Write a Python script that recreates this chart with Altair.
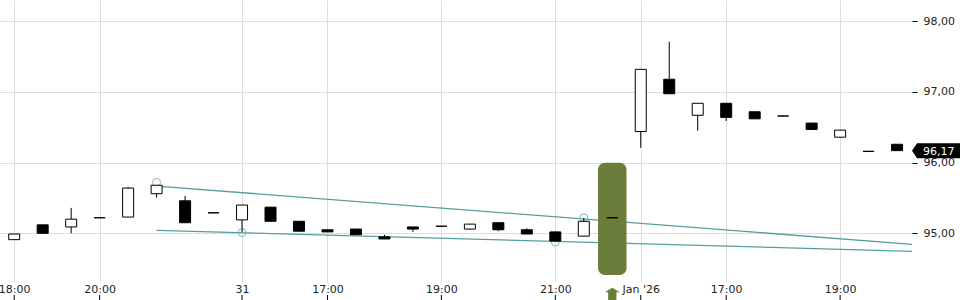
import altair as alt
import pandas as pd

# ---- data ----
idx = list(range(32))
open_ = [94.91, 95.12, 95.09, 95.22, 95.23, 95.56, 95.46, 95.29, 95.19, 95.37, 95.17, 95.05,
         95.06, 94.95, 95.09, 95.10, 95.06, 95.15, 95.05, 95.02, 94.96, 95.22, 96.44, 97.18,
         96.67, 96.84, 96.72, 96.66, 96.56, 96.36, 96.16, 96.26]
close = [94.99, 95.00, 95.20, 95.22, 95.64, 95.68, 95.15, 95.29, 95.40, 95.17, 95.03, 95.02,
         94.98, 94.92, 95.06, 95.10, 95.13, 95.05, 94.99, 94.89, 95.17, 95.22, 97.32, 96.975,
         96.84, 96.64, 96.62, 96.66, 96.47, 96.46, 96.16, 96.17]
high = [94.99, 95.12, 95.36, 95.22, 95.655, 95.68, 95.53, 95.29, 95.40, 95.37, 95.17, 95.05,
        95.06, 94.98, 95.09, 95.10, 95.13, 95.15, 95.07, 95.02, 95.216, 95.22, 97.32, 97.71,
        96.84, 96.84, 96.72, 96.66, 96.56, 96.46, 96.16, 96.26]
low = [94.91, 95.00, 95.00, 95.22, 95.23, 95.507, 95.15, 95.29, 95.02, 95.17, 95.02, 95.02,
       94.98, 94.92, 95.02, 95.10, 95.05, 95.03, 94.99, 94.89, 94.96, 95.22, 96.21, 96.97,
       96.45, 96.59, 96.62, 96.66, 96.47, 96.36, 96.16, 96.17]

tick_idx = [0, 3, 8, 11, 15, 19, 22, 25, 29]
tick_lab = ["18:00", "20:00", "31", "17:00", "19:00", "21:00", "Jan '26", "17:00", "19:00"]

y_ticks = [95, 96, 97, 98]

# trend lines (start candle -> right edge)
trend_x = [5, 31.524]
trend_upper = [95.668, 94.844]
trend_lower = [95.042, 94.745]

# touch points (circles)
touch_idx = [5, 8, 19, 20]
touch_val = [95.72, 95.01, 94.877, 95.22]

# highlighted event
hl_idx = [21]
hl_top = [96.0]
hl_bottom = [94.41]

last_price = [96.17]

# ---- tables ----
candles = pd.DataFrame({"i": idx, "open": open_, "close": close, "high": high, "low": low})
candles["dir"] = ["up" if c > o else "down" for o, c in zip(open_, close)]
ticks_df = pd.DataFrame({"i": tick_idx, "label": tick_lab})
trend_df = pd.concat([
    pd.DataFrame({"i": trend_x, "v": trend_upper, "line": "upper"}),
    pd.DataFrame({"i": trend_x, "v": trend_lower, "line": "lower"}),
])
touch_df = pd.DataFrame({"i": touch_idx, "v": touch_val})
hl_df = pd.DataFrame({"i": hl_idx, "top": hl_top, "bottom": hl_bottom})
last_df = pd.DataFrame({"v": last_price})
last_df["txt"] = [f"{v:.2f}".replace(".", ",") for v in last_price]

xscale = alt.Scale(domain=[-0.4986, 31.524], nice=False, zero=False, padding=0)
yscale = alt.Scale(domain=[94.311, 98.3014], nice=False, zero=False, padding=0)
FONT = "DejaVu Sans"

label_expr = ""
for i, l in zip(tick_idx, tick_lab):
    label_expr += f'datum.value == {i} ? "{l}" : '
label_expr += '""'

x_axis = alt.Axis(values=tick_idx, labelExpr=label_expr, grid=True, gridColor="#dddddd",
                  ticks=False, domain=False, labelPadding=1, labelFont=FONT, labelFontSize=11,
                  labelColor="#222222", labelOverlap=False, labelBound=False, labelFlush=False,
                  title=None)
y_axis = alt.Axis(orient="right", values=y_ticks,
                  labelExpr="replace(format(datum.value, '.2f'), '.', ',')",
                  grid=True, gridColor="#dddddd", tickColor="#000000", tickSize=5,
                  domain=False, labelPadding=6, labelFont=FONT, labelFontSize=11,
                  labelColor="#222222", title=None)


def X(field):
    return alt.X(field, type="quantitative", scale=xscale, axis=x_axis)


def Y(field):
    return alt.Y(field, type="quantitative", scale=yscale, axis=y_axis)


trend = alt.Chart(trend_df).mark_line(color="#559e9f", strokeWidth=1.3).encode(
    x=X("i"), y=Y("v"), detail="line:N",
)

touch = alt.Chart(touch_df).mark_point(shape="circle", size=64, filled=False,
                                       color="#7fb6b7", strokeWidth=1, opacity=1).encode(
    x=X("i"), y=Y("v"),
)

box = alt.Chart(hl_df).transform_calculate(
    x1="datum.i - 0.5", x2="datum.i + 0.5"
).mark_rect(color="#6b7d3a", cornerRadius=7).encode(
    x=X("x1"), x2="x2:Q", y=Y("top"), y2="bottom:Q",
)

wick = alt.Chart(candles).mark_rule(color="black", strokeWidth=1).encode(
    x=X("i"), y=Y("low"), y2="high:Q",
)

body = alt.Chart(candles).mark_bar(size=11, stroke="black", strokeWidth=1).encode(
    x=X("i"), y=Y("open"), y2="close:Q",
    color=alt.Color("dir:N", scale=alt.Scale(domain=["up", "down"], range=["white", "black"]),
                    legend=None),
)

xticks = alt.Chart(ticks_df).mark_rule(color="black", strokeWidth=1).encode(
    x=X("i"), y=alt.value(295), y2=alt.value(300),
)

arrow = alt.Chart(hl_df).mark_point(
    shape="M 0 -1 L 1 -0.4 L 0.55 -0.4 L 0.55 1 L -0.55 1 L -0.55 -0.4 L -1 -0.4 Z",
    size=225, filled=True, color="#6b7d3a", opacity=1,
).encode(
    x=X("i"), y=alt.value(295.2),
)

tag = alt.Chart(last_df).mark_point(
    shape="M -1 0 L -0.79 -0.3125 L 1 -0.3125 L 1 0.3125 L -0.79 0.3125 Z",
    size=2304, filled=True, color="black", opacity=1,
).encode(
    x=alt.value(936), y=Y("v"),
)

tag_text = alt.Chart(last_df).mark_text(align="left", baseline="middle", color="white",
                                        font=FONT, fontSize=11, dy=1).encode(
    x=alt.value(923), y=Y("v"), text="txt:N",
)

chart = alt.layer(trend, touch, box, wick, body, xticks, arrow, tag, tag_text).properties(
    width=912, height=282,
    autosize=alt.AutoSizeParams(type="none"),
    padding={"left": 0, "top": 0, "right": 48, "bottom": 18},
    background="white",
).configure_view(stroke=None)

chart.save("out.html", embed_options={"renderer": "svg", "actions": False})
